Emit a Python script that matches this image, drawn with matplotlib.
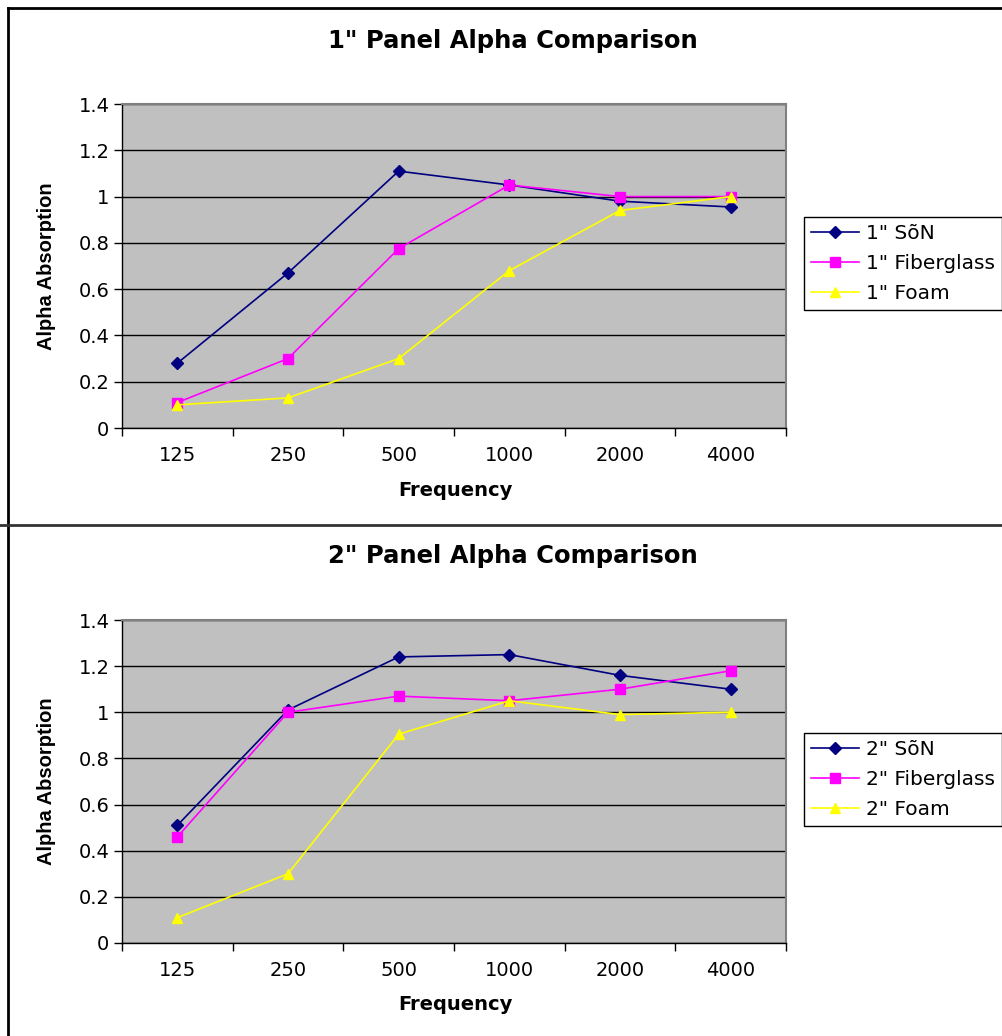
import matplotlib
matplotlib.use("Agg")
import matplotlib.pyplot as plt
from matplotlib.lines import Line2D

plt.rcParams['font.family'] = ['DejaVu Sans']

categories = ["125", "250", "500", "1000", "2000", "4000"]
y_ticks = [0, 0.2, 0.4, 0.6, 0.8, 1, 1.2, 1.4]
y_tick_labels = ["0", "0.2", "0.4", "0.6", "0.8", "1", "1.2", "1.4"]

titles = ['1" Panel Alpha Comparison', '2" Panel Alpha Comparison']
series_names_1 = ['1" SõN', '1" Fiberglass', '1" Foam']
series_names_2 = ['2" SõN', '2" Fiberglass', '2" Foam']

son_1 = [0.28, 0.67, 1.11, 1.05, 0.98, 0.955]
fiber_1 = [0.11, 0.30, 0.775, 1.05, 1.00, 1.00]
foam_1 = [0.10, 0.13, 0.30, 0.68, 0.94, 1.00]

son_2 = [0.51, 1.01, 1.24, 1.25, 1.16, 1.10]
fiber_2 = [0.46, 1.00, 1.07, 1.05, 1.10, 1.18]
foam_2 = [0.11, 0.30, 0.905, 1.05, 0.99, 1.00]

colors = ["#000080", "#FF00FF", "#FFFF00"]
markers = ["D", "s", "^"]
msizes = [6, 6.5, 7.5]

W, H = 1003, 1036
fig = plt.figure(figsize=(W / 100, H / 100), dpi=100)
fig.patch.set_facecolor("white")

def fx(px):
    return px / W

def fy(py):
    return 1 - py / H

panels = [
    dict(top=104, bottom=428, title_y=41, xlabel_y=490, leg_top=217,
         data=[son_1, fiber_1, foam_1], names=series_names_1, title=titles[0]),
    dict(top=620, bottom=943, title_y=556, xlabel_y=1005, leg_top=733,
         data=[son_2, fiber_2, foam_2], names=series_names_2, title=titles[1]),
]

left, right = 122, 786
x = list(range(len(categories)))

for p in panels:
    ax = fig.add_axes([fx(left), fy(p["bottom"]), fx(right) - fx(left), fy(p["top"]) - fy(p["bottom"])])
    ax.set_facecolor("#C0C0C0")
    ax.set_xlim(-0.5, len(categories) - 0.5)
    ax.set_ylim(0, 1.4)
    ax.set_yticks(y_ticks)
    ax.set_yticklabels(y_tick_labels, fontsize=14)
    ax.set_xticks([i - 0.5 for i in range(len(categories) + 1)])
    ax.set_xticklabels([])
    ax.set_xticks(x, minor=True)
    ax.set_xticklabels(categories, minor=True, fontsize=14)
    ax.tick_params(axis="x", which="minor", length=0, pad=13)
    ax.tick_params(axis="x", which="major", length=6, width=1, direction="out", color="black")
    ax.tick_params(axis="y", length=6, width=1, direction="out", color="black", pad=3)
    ax.grid(axis="y", color="black", linewidth=1)
    ax.set_axisbelow(True)
    for s in ["top", "right"]:
        ax.spines[s].set_color("#808080")
        ax.spines[s].set_linewidth(1.5)
    for s in ["left", "bottom"]:
        ax.spines[s].set_color("black")
        ax.spines[s].set_linewidth(1)

    handles = []
    for vals, c, m, ms, name in zip(p["data"], colors, markers, msizes, p["names"]):
        h, = ax.plot(x, vals, color=c, marker=m, markersize=ms, linewidth=1.2,
                     markerfacecolor=c, markeredgecolor=c, label=name, clip_on=False, zorder=3)
        handles.append(h)

    fig.text(fx(513), fy(p["title_y"]), p["title"], ha="center", va="center",
             fontsize=17.5, fontweight="bold")
    fig.text(fx(455), fy(p["xlabel_y"]), "Frequency", ha="center", va="center",
             fontsize=14, fontweight="bold")
    fig.text(fx(47), fy((p["top"] + p["bottom"]) / 2), "Alpha Absorption", ha="center",
             va="center", rotation=90, fontsize=14.5, fontweight="bold",
             family=["Liberation Sans", "DejaVu Sans"])

    leg = fig.legend(handles=handles, loc="upper left",
                     bbox_to_anchor=(fx(804), fy(p["leg_top"])),
                     fontsize=14.5, frameon=True, fancybox=False, framealpha=1,
                     edgecolor="black", handlelength=2.4, handletextpad=0.35,
                     labelspacing=0.55, borderpad=0.35, borderaxespad=0)
    leg.get_frame().set_linewidth(1)

# outer borders
fig.add_artist(Line2D([fx(8), fx(8)], [fy(8), 0], color="black", linewidth=2, transform=fig.transFigure))
fig.add_artist(Line2D([fx(8), 1], [fy(8), fy(8)], color="black", linewidth=2, transform=fig.transFigure))
fig.add_artist(Line2D([0, 1], [fy(525), fy(525)], color="#333333", linewidth=2, transform=fig.transFigure))

fig.savefig("out.png", dpi=100)
